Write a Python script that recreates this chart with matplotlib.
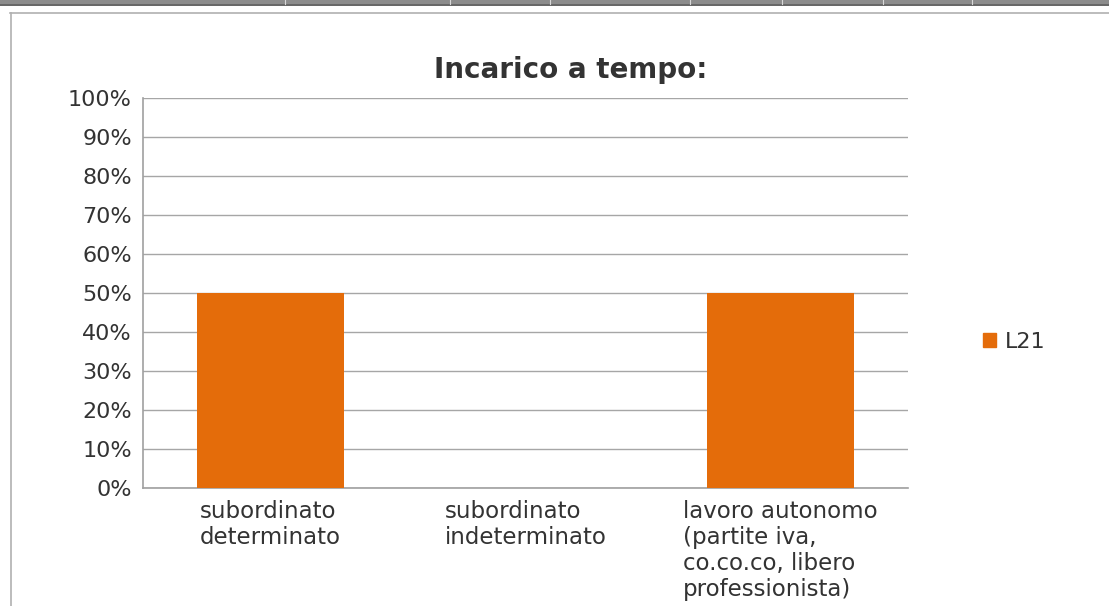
import matplotlib
matplotlib.use("Agg")
import matplotlib.pyplot as plt
from matplotlib.patches import Rectangle
from matplotlib.lines import Line2D
from matplotlib.ticker import MultipleLocator, FuncFormatter

categories = ["subordinato\ndeterminato", "subordinato\nindeterminato",
              "lavoro autonomo\n(partite iva,\nco.co.co, libero\nprofessionista)"]
values = [0.50, 0.0, 0.50]
series_name = "L21"
title = "Incarico a tempo:"

W, H = 1109, 606
fig = plt.figure(figsize=(W / 100, H / 100), dpi=100)
fig.patch.set_facecolor("white")

# spreadsheet-like top band and chart frame
fig.patches.append(Rectangle((0, 1 - 4 / H), 1, 4 / H, transform=fig.transFigure,
                             facecolor="#8c8c8c", edgecolor="none"))
fig.lines.append(Line2D([0, 1], [1 - 4.5 / H] * 2, transform=fig.transFigure,
                        color="#4a4a4a", lw=1.2))
for xt in [285, 450, 550, 690, 782, 883, 972]:
    fig.lines.append(Line2D([xt / W] * 2, [1 - 4 / H, 1], transform=fig.transFigure,
                            color="#d8d8d8", lw=0.8))
fig.lines.append(Line2D([10 / W, 1], [1 - 12.5 / H] * 2, transform=fig.transFigure,
                        color="#b0b0b0", lw=1.2))
fig.lines.append(Line2D([10.5 / W] * 2, [0, 1 - 12.5 / H], transform=fig.transFigure,
                        color="#b0b0b0", lw=1.2))

ax = fig.add_axes([143 / W, (H - 488) / H, 765 / W, 390 / H])
x = list(range(len(categories)))
ax.bar(x, values, width=0.576, color="#E46C0A", zorder=3, label=series_name)
ax.set_xlim(-0.5, len(categories) - 0.5)
ax.set_ylim(0, 1)
ax.yaxis.set_major_locator(MultipleLocator(0.1))
ax.yaxis.set_major_formatter(FuncFormatter(lambda v, p: f"{v*100:.0f}%"))
ax.grid(axis="y", color="#a6a6a6", lw=1.0, zorder=0)
for s in ["top", "right"]:
    ax.spines[s].set_visible(False)
for s in ["left", "bottom"]:
    ax.spines[s].set_color("#a0a0a0")
    ax.spines[s].set_linewidth(1.2)
ax.tick_params(axis="y", length=0, pad=8, labelsize=16, labelcolor="#333333")
ax.tick_params(axis="x", length=0, pad=9)
ax.set_xticks(x)
ax.set_xticklabels(categories, fontsize=16.5, color="#333333",
                   ha="center", va="top", multialignment="left", linespacing=1.15)

fig.text(571 / W, 1 - 70 / H, title, ha="center", va="center",
         fontsize=20, fontweight="bold", color="#333333")

leg = fig.legend(handles=[Rectangle((0, 0), 1, 1, color="#E46C0A")], labels=[series_name],
                 loc="center left", bbox_to_anchor=(972 / W, 1 - 342 / H),
                 frameon=False, fontsize=16, handlelength=0.6, handleheight=0.6,
                 handletextpad=0.4, borderpad=0)
for t in leg.get_texts():
    t.set_color("#333333")

fig.savefig("out.png", dpi=100, facecolor="white")
